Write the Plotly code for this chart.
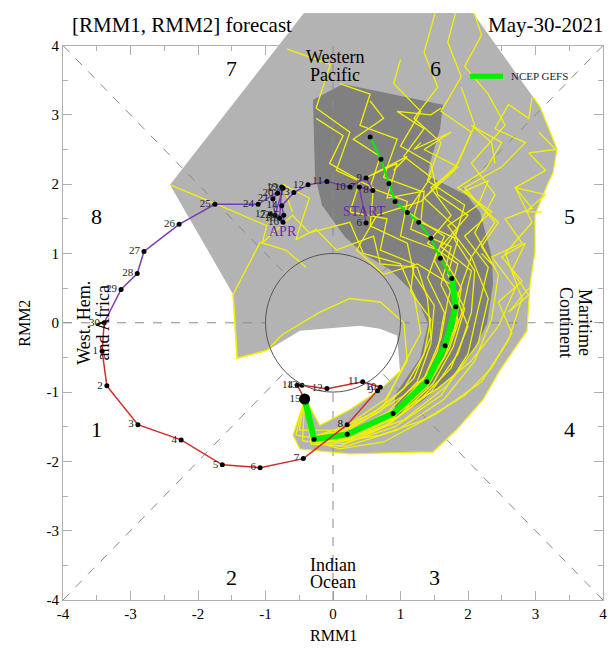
import plotly.graph_objects as go

SERIF = "Liberation Serif, Times New Roman, serif"

# ---- observed RMM index, April 6 - 30 (purple) ----
apr_day = [6, 7, 8, 9, 10, 11, 12, 13, 14, 15, 16, 17, 18, 19, 20, 21, 22, 23, 24, 25, 26, 27, 28, 29, 30]
apr_rmm1 = [0.49, 0.39, 0.59, 0.49, 0.25, -0.09, -0.37, -0.58, -0.76, -0.73, -0.74, -0.93, -0.79,
            -0.76, -0.82, -0.89, -0.86, -0.74, -1.11, -1.75, -2.28, -2.80, -2.90, -3.14, -3.39]
apr_rmm2 = [1.44, 1.96, 1.91, 2.09, 1.96, 2.04, 1.99, 1.88, 1.69, 1.55, 1.45, 1.57, 1.51,
            1.96, 1.87, 1.79, 1.55, 1.94, 1.71, 1.71, 1.42, 1.03, 0.71, 0.48, 0.00]

# ---- observed RMM index, May 1 - 15 (red) ----
may_day = [1, 2, 3, 4, 5, 6, 7, 8, 9, 10, 11, 12, 13, 14, 15]
may_rmm1 = [-3.42, -3.35, -2.89, -2.25, -1.64, -1.08, -0.44, 0.21, 0.66, 0.70, 0.44, -0.09, -0.46, -0.53, -0.42]
may_rmm2 = [-0.41, -0.91, -1.47, -1.69, -2.05, -2.09, -1.96, -1.47, -0.98, -0.93, -0.85, -0.95, -0.90, -0.90, -1.10]

# ---- NCEP GEFS ensemble-mean forecast (day 0 = last analysis) ----
mean_rmm1 = [-0.42, -0.28, 0.21, 0.89, 1.39, 1.66, 1.82, 1.76, 1.59, 1.45, 1.27, 1.10, 0.92, 0.83, 0.71, 0.55]
mean_rmm2 = [-1.10, -1.68, -1.61, -1.31, -0.85, -0.33, 0.23, 0.64, 0.93, 1.22, 1.45, 1.59, 1.75, 2.01, 2.36, 2.68]

# ---- ensemble members, (RMM1, RMM2) for days 0-15 ----
m01 = [(-0.42, -1.10), (-0.30, -1.72), (0.15, -1.70), (0.85, -1.45), (1.45, -1.00), (1.85, -0.45), (2.05, 0.15), (2.10, 0.75),
       (1.80, 1.20), (1.95, 1.70), (1.40, 2.05), (1.60, 2.60), (1.20, 2.95), (1.55, 3.40), (1.35, 3.90), (1.55, 4.60)]
m02 = [(-0.42, -1.10), (-0.25, -1.65), (0.30, -1.55), (1.00, -1.20), (1.50, -0.70), (1.80, -0.10), (1.90, 0.50), (1.60, 1.00),
       (1.85, 1.35), (1.35, 1.80), (1.80, 2.20), (2.05, 2.75), (1.60, 3.05), (1.90, 3.55), (1.70, 4.05), (1.85, 4.60)]
m03 = [(-0.42, -1.10), (-0.32, -1.75), (0.20, -1.78), (0.95, -1.55), (1.65, -1.10), (2.10, -0.55), (2.35, 0.05), (2.45, 0.70),
       (2.10, 1.30), (2.40, 1.85), (2.05, 2.30), (2.55, 2.85), (2.30, 3.30), (1.95, 3.70), (2.20, 4.15), (2.05, 4.60)]
m04 = [(-0.42, -1.10), (-0.27, -1.70), (0.25, -1.68), (1.05, -1.40), (1.70, -0.90), (2.15, -0.30), (2.30, 0.35), (2.05, 0.95),
       (2.40, 1.45), (1.95, 1.95), (2.50, 2.25), (2.85, 2.60), (2.40, 2.80), (2.60, 3.15), (2.90, 2.95), (2.95, 3.25)]
m05 = [(-0.42, -1.10), (-0.33, -1.70), (0.10, -1.82), (0.75, -1.72), (1.55, -1.30), (2.20, -0.85), (2.60, -0.25), (2.80, 0.35),
       (2.55, 1.00), (2.95, 1.45), (2.70, 1.95), (3.15, 2.20), (2.90, 2.45), (3.30, 2.50), (3.05, 2.75), (3.30, 2.50)]
m06 = [(-0.42, -1.10), (-0.29, -1.66), (0.22, -1.58), (0.95, -1.30), (1.55, -0.95), (2.05, -0.55), (2.45, -0.05), (2.70, 0.50),
       (2.35, 0.95), (2.80, 1.15), (2.55, 1.50), (2.95, 1.65), (2.70, 1.95), (3.15, 1.85), (2.85, 1.60), (3.10, 1.60)]
m07 = [(-0.42, -1.10), (-0.55, -1.62), (0.05, -1.72), (0.70, -1.62), (1.35, -1.40), (1.95, -1.05), (2.35, -0.65), (2.65, -0.15),
       (2.45, 0.30), (2.80, 0.60), (2.50, 0.95), (2.85, 1.15), (2.65, 0.75), (2.90, 0.40), (2.60, 0.15), (2.90, 0.50)]
m08 = [(-0.42, -1.10), (-0.26, -1.64), (0.28, -1.52), (1.05, -1.05), (1.45, -0.70), (1.75, -0.15), (1.85, 0.40), (2.05, 0.95),
       (1.70, 1.40), (2.15, 1.70), (2.30, 2.05), (1.95, 1.90), (2.45, 1.45), (2.20, 1.10), (2.40, 0.80), (2.20, 1.00)]
m09 = [(-0.42, -1.10), (-0.28, -1.68), (0.18, -1.62), (0.85, -1.35), (1.30, -0.90), (1.55, -0.40), (1.65, 0.15), (1.40, 0.65),
       (1.55, 1.05), (1.00, 1.25), (1.10, 1.75), (0.55, 1.95), (0.70, 2.40), (0.30, 2.65), (0.75, 2.95), (0.55, 3.20)]
m10 = [(-0.42, -1.10), (-0.27, -1.67), (0.20, -1.60), (0.80, -1.30), (1.25, -0.85), (1.45, -0.30), (1.50, 0.25), (1.20, 0.70),
       (1.10, 1.15), (0.55, 1.40), (0.60, 1.95), (0.05, 2.20), (0.25, 2.75), (-0.25, 3.10), (-0.04, 3.73), (-0.68, 3.95)]
m11 = [(-0.42, -1.10), (-0.31, -1.70), (0.12, -1.66), (0.75, -1.40), (1.30, -1.00), (1.65, -0.50), (1.85, 0.05), (1.60, 0.55),
       (1.75, 1.10), (1.15, 1.35), (1.30, 1.90), (0.75, 2.10), (0.95, 2.65), (0.40, 2.85), (0.55, 3.30), (0.10, 3.45)]
m12 = [(-0.42, -1.10), (-0.26, -1.66), (0.24, -1.62), (0.92, -1.32), (1.42, -0.82), (1.70, -0.25), (1.80, 0.35), (1.50, 0.90),
       (1.65, 1.25), (1.10, 1.60), (1.45, 2.10), (1.05, 2.40), (1.35, 2.80), (0.95, 3.05), (1.45, 3.00), (1.60, 3.10)]
m13 = [(-0.42, -1.10), (-0.30, -1.65), (0.15, -1.55), (0.75, -1.20), (1.05, -0.60), (1.30, -0.15), (1.20, 0.40), (1.00, 0.85),
       (0.45, 1.00), (0.25, 1.45), (-0.35, 1.30), (-0.60, 1.55), (-1.05, 1.15), (-0.98, 1.40), (-1.70, 1.70), (-2.41, 1.99)]
m14 = [(-0.42, -1.10), (-0.29, -1.64), (0.18, -1.50), (0.78, -1.10), (1.10, -0.55), (1.05, 0.00), (0.70, 0.30), (0.25, 0.35),
       (-0.20, 0.15), (-0.75, -0.17), (-0.98, -0.40), (-1.42, -0.51), (-1.48, 0.41), (-1.08, 1.16), (-0.70, 1.05), (-0.40, 0.80)]
m15 = [(-0.42, -1.10), (-0.25, -1.70), (0.26, -1.66), (0.96, -1.36), (1.48, -0.88), (1.78, -0.35), (1.95, 0.20), (1.70, 0.70),
       (1.85, 1.20), (1.30, 1.45), (1.35, 1.90), (0.80, 1.80), (0.95, 2.30), (0.50, 2.10), (1.10, 2.40), (0.90, 2.20)]
m16 = [(-0.42, -1.10), (-0.31, -1.66), (0.10, -1.58), (0.70, -1.28), (1.20, -0.80), (1.45, -0.20), (1.40, 0.35), (1.25, 0.80),
       (0.70, 0.85), (0.60, 1.25), (0.05, 1.05), (-0.25, 1.35), (-0.55, 1.20), (-0.35, 1.80), (-0.75, 2.00), (-0.60, 1.60)]
m17 = [(-0.42, -1.10), (-0.28, -1.70), (0.23, -1.64), (0.90, -1.28), (1.36, -0.78), (1.60, -0.22), (1.70, 0.32), (1.85, 0.85),
       (1.40, 1.15), (1.75, 1.55), (1.45, 1.95), (1.85, 2.25), (1.35, 2.50), (1.75, 2.75), (1.20, 2.50), (1.30, 2.60)]
m18 = [(-0.42, -1.10), (-0.30, -1.73), (0.18, -1.74), (0.92, -1.50), (1.60, -1.05), (2.00, -0.45), (2.15, 0.20), (2.30, 0.80),
       (1.95, 1.25), (2.35, 1.60), (1.85, 1.95), (2.25, 2.20), (2.50, 2.60), (2.05, 2.85), (2.35, 2.60), (2.40, 2.30)]
m19 = [(-0.42, -1.10), (-0.50, -1.55), (0.05, -1.55), (0.60, -1.30), (1.05, -0.95), (1.35, -0.45), (1.45, 0.05), (1.15, 0.45),
       (1.20, 0.85), (0.70, 1.05), (0.80, 1.50), (0.25, 1.60), (0.40, 2.05), (-0.05, 2.30), (0.15, 2.70), (-0.25, 2.95)]
m20 = [(-0.42, -1.10), (-0.27, -1.68), (0.22, -1.64), (0.88, -1.38), (1.40, -0.92), (1.72, -0.38), (1.92, 0.18), (2.05, 0.75),
       (1.60, 1.10), (2.00, 1.55), (1.55, 1.85), (1.45, 2.30), (1.00, 2.55), (1.30, 3.05), (0.90, 3.45), (1.00, 3.80)]
m21 = [(-0.42, -1.10), (-0.45, -1.70), (0.10, -1.78), (0.72, -1.52), (1.25, -1.15), (1.75, -0.65), (2.00, -0.05), (1.75, 0.55),
       (1.25, 0.85), (0.75, 0.70), (0.35, 1.05), (0.65, 1.55), (1.30, 1.75), (1.85, 2.30), (2.10, 2.85), (1.90, 3.40)]
members = (m01, m02, m03, m04, m05, m06, m07, m08, m09, m10, m11, m12, m13, m14, m15, m16, m17, m18, m19, m20, m21)

# ---- ensemble spread envelopes ----
outer_rmm1 = [-2.415, -0.430, 2.074, 2.963, 3.067, 3.319, 3.259, 3.170, 2.993, 2.993, 2.919, 2.874, 2.474, 2.222,
              1.837, 1.481, 1.289, 0.252, -0.489, -0.593, -0.415, -0.193, 0.252, 0.696, 0.993, 0.948, 0.696, 0.400,
              -0.489, -0.978, -1.422, -1.481]
outer_rmm2 = [1.993, 4.470, 4.470, 3.260, 3.117, 2.505, 2.164, 1.979, 1.552, 1.025, 0.555, -0.114, -0.683, -1.110,
              -1.537, -1.865, -1.865, -1.893, -1.822, -1.623, -1.096, -1.480, -1.253, -0.968, -0.698, -0.185, -0.085, -0.043,
              -0.114, -0.399, -0.512, 0.413]
inner_rmm1 = [-0.296, 0.148, 1.630, 1.585, 1.437, 1.407, 1.985, 2.178, 2.356, 2.370, 2.281, 2.030, 1.733, 1.289,
              0.919, 0.919, 1.289, 1.407, 1.215, 0.844, 0.474, 0.178, -0.163, -0.267]
inner_rmm2 = [3.217, 3.445, 3.146, 2.790, 2.306, 2.121, 1.836, 1.594, 0.940, 0.555, -0.014, -0.484, -0.797, -1.153,
              -1.367, -1.039, -0.512, -0.014, 0.413, 0.769, 0.982, 1.238, 1.694, 2.121]

tick_vals = [-4, -3, -2, -1, 0, 1, 2, 3, 4]
tick_text = ["-4", "-3", "-2", "-1", "0", "1", "2", "3", "4"]

YELLOW = "#f2f200"
GREEN = "#00f000"
PURPLE = "#7a3cb0"
RED = "#d42a2a"
LIGHT = "#b3b3b3"
DARK = "#808080"

# Figure geometry: the lower subplot carries the framed [-4, 4] axes; the upper
# one shares its scale but reaches to the top margin so the spread can run past the frame.
W, H = 615, 649
ML, MR, MT, MB = 63, 12, 5, 49
plot_h = H - MT - MB
frame_frac = 562 / plot_h
y2_top = -4 + 8 / frame_frac

fig = go.Figure()
XY2 = dict(xaxis="x2", yaxis="y2", hoverinfo="skip", showlegend=False)

# keeps the framed subplot alive
fig.add_trace(go.Scatter(x=[0], y=[0], mode="markers", marker=dict(opacity=0),
                         hoverinfo="skip", showlegend=False))

# spread envelopes
fig.add_trace(go.Scatter(x=outer_rmm1, y=outer_rmm2, fill="toself", fillcolor=LIGHT,
                         mode="lines", line=dict(width=0), **XY2))
fig.add_trace(go.Scatter(x=inner_rmm1, y=inner_rmm2, fill="toself", fillcolor=DARK,
                         mode="lines", line=dict(width=0), **XY2))

# phase-space guide lines (dashed), from the frame corners / edges to the unit circle
r45 = 0.7071
guides = [((-4, -r45), (-4, -r45)), ((4, r45), (4, r45)), ((-4, -r45), (4, r45)), ((4, r45), (-4, -r45)),
          ((-4, -1), (0, 0)), ((1, 4), (0, 0)), ((0, 0), (-4, -1)), ((0, 0), (1, 4))]
for gx, gy in guides:
    fig.add_trace(go.Scatter(x=list(gx), y=list(gy), mode="lines",
                             line=dict(color="#8a8a8a", width=1, dash="dash"), **XY2))

# envelope edges traced by the outermost members
fig.add_trace(go.Scatter(x=outer_rmm1[3:25], y=outer_rmm2[3:25], mode="lines",
                         line=dict(color=YELLOW, width=1.2), **XY2))
fig.add_trace(go.Scatter(x=outer_rmm1[29:32], y=outer_rmm2[29:32], mode="lines",
                         line=dict(color=YELLOW, width=1.2), **XY2))

# ensemble members
for m in members:
    fig.add_trace(go.Scatter(x=[p[0] for p in m], y=[p[1] for p in m], mode="lines",
                             line=dict(color=YELLOW, width=1.3), **XY2))

# ensemble mean: thick for week 1, thin for week 2
fig.add_trace(go.Scatter(x=mean_rmm1[:8], y=mean_rmm2[:8], mode="lines",
                         line=dict(color=GREEN, width=6), **XY2))
fig.add_trace(go.Scatter(x=mean_rmm1[7:], y=mean_rmm2[7:], mode="lines",
                         line=dict(color=GREEN, width=2), **XY2))
fig.add_trace(go.Scatter(x=mean_rmm1[1:], y=mean_rmm2[1:], mode="markers",
                         marker=dict(color="black", size=5), **XY2))

# observed trajectory
fig.add_trace(go.Scatter(x=apr_rmm1, y=apr_rmm2, mode="lines+markers+text",
                         line=dict(color=PURPLE, width=1.5),
                         marker=dict(color="black", size=5),
                         text=[str(d) for d in apr_day], textposition="middle left",
                         textfont=dict(family=SERIF, size=11, color="#222"), **XY2))
fig.add_trace(go.Scatter(x=apr_rmm1[-1:] + may_rmm1, y=apr_rmm2[-1:] + may_rmm2, mode="lines",
                         line=dict(color=RED, width=1.5), **XY2))
fig.add_trace(go.Scatter(x=may_rmm1, y=may_rmm2, mode="markers+text",
                         marker=dict(color="black", size=5),
                         text=[str(d) for d in may_day], textposition="middle left",
                         textfont=dict(family=SERIF, size=11, color="#222"), **XY2))
fig.add_trace(go.Scatter(x=may_rmm1[-1:], y=may_rmm2[-1:], mode="markers",
                         marker=dict(color="black", size=11), **XY2))

# unit circle
fig.add_shape(type="circle", xref="x2", yref="y2", x0=-1, y0=-1, x1=1, y1=1,
              line=dict(color="#555555", width=1), layer="above")

ann = []


def label(x, y, text, size, color="black", angle=0):
    ann.append(dict(x=x, y=y, xref="x", yref="y", text=text, showarrow=False,
                    font=dict(family=SERIF, size=size, color=color), textangle=angle,
                    xanchor="center", yanchor="middle"))


# phase numbers
for px_, py_, t in [(-3.5, -1.54, "1"), (-1.5, -3.67, "2"), (1.5, -3.67, "3"), (3.5, -1.54, "4"),
                    (3.5, 1.54, "5"), (1.52, 3.67, "6"), (-1.5, 3.67, "7"), (-3.5, 1.54, "8")]:
    label(px_, py_, t, 22)

# regions
label(0.03, 3.83, "Western", 18)
label(0.03, 3.57, "Pacific", 18)
label(0.0, -3.50, "Indian", 18)
label(0.0, -3.74, "Ocean", 18)
label(-3.69, 0.0, "West. Hem.", 18, angle=-90)
label(-3.41, 0.0, "and Africa", 18, angle=-90)
label(3.73, 0.0, "Maritime", 18, angle=90)
label(3.45, 0.0, "Continent", 18, angle=90)

# trajectory markers
label(0.47, 1.61, "START", 14, color="#6a2aa0")
label(-0.74, 1.32, "APR", 14, color="#6a2aa0")

# titles
ann.append(dict(x=0.013, y=(600 - 17) / plot_h, xref="paper", yref="paper", text="[RMM1, RMM2] forecast",
                showarrow=False, xanchor="left", yanchor="middle", font=dict(family=SERIF, size=21, color="black")))
ann.append(dict(x=1.003, y=(600 - 17) / plot_h, xref="paper", yref="paper", text="May-30-2021",
                showarrow=False, xanchor="right", yanchor="middle", font=dict(family=SERIF, size=21, color="black")))
ann.append(dict(x=0.5, y=(600 - 636) / plot_h, xref="paper", yref="paper", text="RMM1",
                showarrow=False, xanchor="center", yanchor="middle", font=dict(family=SERIF, size=16, color="black")))
ann.append(dict(x=(25 - ML) / 540, y=(600 - 320) / plot_h, xref="paper", yref="paper", text="RMM2",
                showarrow=False, xanchor="center", yanchor="middle", textangle=-90,
                font=dict(family=SERIF, size=16, color="black")))

# legend entry
leg_y = (600 - 69) / plot_h
fig.add_shape(type="line", xref="paper", yref="paper", x0=(470 - ML) / 540, x1=(503 - ML) / 540,
              y0=leg_y, y1=leg_y, line=dict(color=GREEN, width=5), layer="above")
ann.append(dict(x=(509 - ML) / 540, y=leg_y, xref="paper", yref="paper", text="NCEP GEFS",
                showarrow=False, xanchor="left", yanchor="middle",
                font=dict(family=SERIF, size=11, color="#222")))

axis_common = dict(range=[-4, 4], tickvals=tick_vals, ticktext=tick_text, ticks="inside",
                   ticklen=9, tickcolor="#b0b0b0", tickwidth=1, showline=True, linecolor="#b0b0b0",
                   linewidth=1, mirror="ticks", showgrid=False, zeroline=False,
                   minor=dict(dtick=0.5, ticks="inside", ticklen=5, tickcolor="#b0b0b0", showgrid=False),
                   tickfont=dict(family=SERIF, size=15, color="black"), fixedrange=True)

fig.update_layout(
    width=W, height=H,
    margin=dict(l=ML, r=MR, t=MT, b=MB),
    paper_bgcolor="white", plot_bgcolor="rgba(0,0,0,0)",
    showlegend=False,
    xaxis=dict(domain=[0, 1], anchor="y", **axis_common),
    yaxis=dict(domain=[0, frame_frac], anchor="x", **axis_common),
    xaxis2=dict(domain=[0, 1], anchor="y2", range=[-4, 4], visible=False, fixedrange=True),
    yaxis2=dict(domain=[0, 1], anchor="x2", range=[-4, y2_top], visible=False, fixedrange=True),
    annotations=ann,
)

fig.write_html("out.html")
